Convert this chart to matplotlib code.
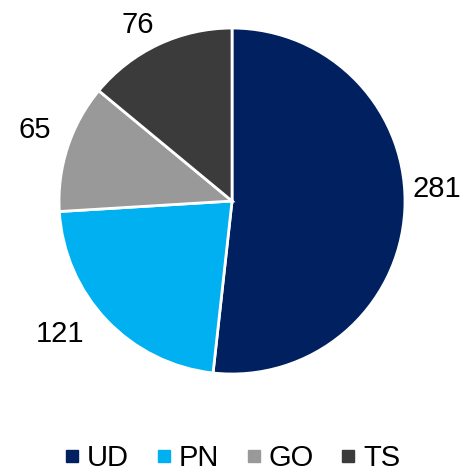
import matplotlib.pyplot as plt
from matplotlib.lines import Line2D

plt.rcParams['font.family'] = ['Liberation Sans', 'DejaVu Sans']

regions = ['UD', 'PN', 'GO', 'TS']
counts = [281, 121, 65, 76]
colors = ['#002060', '#00B0F0', '#999999', '#3B3B3B']
# label centres in pie units (radius = 1)
label_pos = [(1.185, 0.07), (-0.994, -0.769), (-1.139, 0.41), (-0.543, 1.017)]

fig = plt.figure(figsize=(4.62, 4.72), dpi=100)
ax = fig.add_axes([0.1277, 0.2076, 0.749, 0.733])

ax.pie(counts, colors=colors, startangle=90, counterclock=False,
       wedgeprops=dict(edgecolor='white', linewidth=2))
ax.set_xlim(-1, 1)
ax.set_ylim(-1, 1)
ax.axis('off')

for val, (x, y) in zip(counts, label_pos):
    ax.text(x, y, str(val), ha='center', va='center', fontsize=21, color='black')

handles = [Line2D([], [], marker='s', linestyle='none', markersize=8,
                  markerfacecolor=c, markeredgecolor=c) for c in colors]
fig.legend(handles, regions, loc='center', bbox_to_anchor=(0.5, 0.03),
           ncol=4, frameon=False, fontsize=21, handletextpad=0.15,
           columnspacing=0.85, handlelength=0.7)

plt.savefig('out.png')
